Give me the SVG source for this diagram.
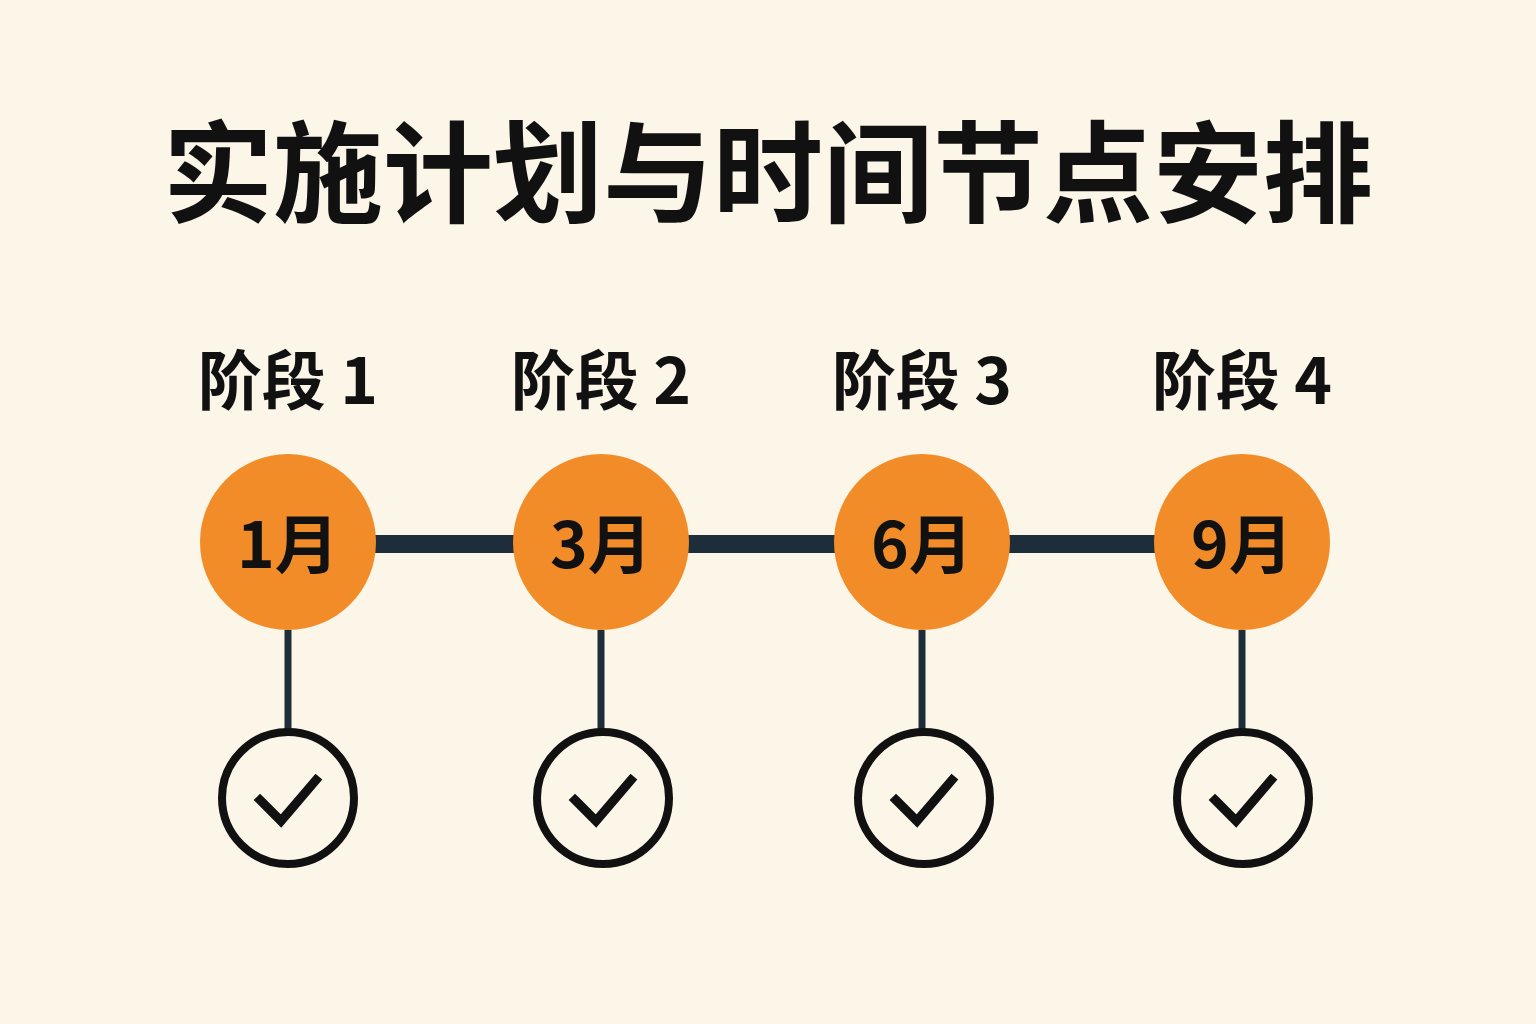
<svg xmlns="http://www.w3.org/2000/svg" width="1536" height="1024" viewBox="0 0 1536 1024">
<style>
.t{font-family:"Noto Sans CJK SC","Noto Sans",sans-serif;font-weight:bold;fill:#111;text-anchor:middle}
.ms{fill:#F28C28}
.ck{fill:none;stroke:#111;stroke-width:8}
.cm{fill:none;stroke:#111;stroke-width:9;stroke-linecap:square;stroke-linejoin:miter}
.v{stroke:#1E2D3A;stroke-width:7}
</style>
<rect width="1536" height="1024" fill="#FBF6E8"/>
<text class="t" x="768" y="214" font-size="110">实施计划与时间节点安排</text>
<g id="connectors">
<line x1="288" y1="544" x2="1242" y2="544" stroke="#1E2D3A" stroke-width="18"/>
<line class="v" x1="288" y1="630" x2="288" y2="730"/>
<line class="v" x1="601" y1="630" x2="601" y2="730"/>
<line class="v" x1="922" y1="630" x2="922" y2="730"/>
<line class="v" x1="1242" y1="630" x2="1242" y2="730"/>
</g>
<g id="stage1"><text class="t" x="288" y="404" font-size="64">阶段 1</text><circle class="ms" cx="288" cy="542" r="88"/><text class="t" x="288" y="568" font-size="64">1月</text><circle class="ck" cx="288" cy="798" r="66"/><path class="cm" d="M260 800 L281 821 L316 780"/></g>
<g id="stage2"><text class="t" x="601" y="404" font-size="64">阶段 2</text><circle class="ms" cx="601" cy="542" r="88"/><text class="t" x="601" y="568" font-size="64">3月</text><circle class="ck" cx="603" cy="798" r="66"/><path class="cm" d="M575 800 L596 821 L631 780"/></g>
<g id="stage3"><text class="t" x="922" y="404" font-size="64">阶段 3</text><circle class="ms" cx="922" cy="542" r="88"/><text class="t" x="922" y="568" font-size="64">6月</text><circle class="ck" cx="924" cy="798" r="66"/><path class="cm" d="M896 800 L917 821 L952 780"/></g>
<g id="stage4"><text class="t" x="1242" y="404" font-size="64">阶段 4</text><circle class="ms" cx="1242" cy="542" r="88"/><text class="t" x="1242" y="568" font-size="64">9月</text><circle class="ck" cx="1243" cy="798" r="66"/><path class="cm" d="M1215 800 L1236 821 L1271 780"/></g>
</svg>
